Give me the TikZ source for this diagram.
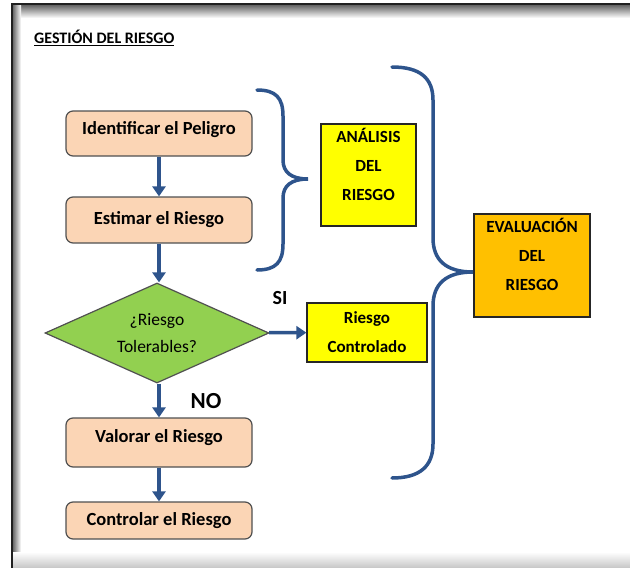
\documentclass[tikz,border=0pt]{standalone}
\usepackage{fontspec}
\setmainfont{Carlito}
\usetikzlibrary{shapes.geometric,arrows.meta}
\definecolor{azulflecha}{RGB}{46,84,140}
\definecolor{durazno}{RGB}{251,213,181}
\definecolor{verdedec}{RGB}{146,208,80}
\definecolor{amarillo}{RGB}{255,255,0}
\definecolor{naranja}{RGB}{255,192,0}
\definecolor{bordegris}{RGB}{80,80,80}
\tikzset{
  paso/.style={draw=bordegris, fill=durazno, rounded corners=7pt, line width=1.2pt,
    minimum width=186pt, font=\bfseries\fontsize{18.5}{21}\selectfont},
  decision/.style={diamond, draw=bordegris, fill=verdedec, line width=1.2pt, aspect=2.24,
    inner sep=0pt, minimum width=224pt, minimum height=100pt, align=center,
    font=\fontsize{17.5}{27}\selectfont},
  nota/.style={draw=black!85, fill=amarillo, line width=1.2pt, align=center,
    font=\bfseries\fontsize{17}{29}\selectfont},
  flecha/.style={azulflecha, line width=3.5pt, -{Triangle[length=10pt,width=13pt]}},
  llave/.style={azulflecha, line width=3.5pt, line cap=round}
}
\begin{document}
\begin{tikzpicture}[x=1pt,y=-1pt]
\useasboundingbox (0,0) rectangle (630,568);
% marco con sombra interior
\shade[top color=gray!70!black, bottom color=white] (12,4) rectangle (630,18);
\shade[left color=gray!70!black, right color=white] (12,4) rectangle (21,568);
\shade[top color=white, bottom color=gray!45] (12,552) rectangle (630,568);
\draw[line width=2pt, gray!25!black] (12,568) -- (12,4) -- (630,4);

% titulo
\node[font=\bfseries\fontsize{16}{18}\selectfont, anchor=west, inner sep=0pt] (titulo) at (34,38)
  {\underline{GESTIÓN DEL RIESGO}};

% pasos del proceso
\node[paso, minimum height=45pt, text depth=12pt] (ident) at (159,133.5) {Identificar el Peligro};
\node[paso, minimum height=46pt] (estimar) at (159,220) {Estimar el Riesgo};
\node[decision] (tolerable) at (157,333) {¿Riesgo\\Tolerables?};
\node[paso, minimum height=49pt, text depth=12pt] (valorar) at (159,442.5) {Valorar el Riesgo};
\node[paso, minimum height=37pt] (controlar) at (159,520.5) {Controlar el Riesgo};

% cuadros de la derecha
\node[nota, minimum width=120pt, minimum height=59pt] (controlado) at (367,332.5)
  {Riesgo\\Controlado};
\node[nota, minimum width=95pt, minimum height=102pt, text depth=22pt] (analisis) at (368.5,175)
  {ANÁLISIS\\DEL\\RIESGO};
\node[nota, fill=naranja, minimum width=116pt, minimum height=103pt, text depth=22pt] (evaluacion)
  at (532,265.5) {EVALUACIÓN\\DEL\\RIESGO};

% flechas
\draw[flecha] (ident) -- (estimar);
\draw[flecha] (estimar) -- (estimar |- tolerable.north);
\draw[flecha] (tolerable) -- (controlado);
\draw[flecha] (valorar |- tolerable.south) -- (valorar);
\draw[flecha] (valorar) -- (controlar);

\node[font=\bfseries\fontsize{20}{22}\selectfont] (si) at (280,298) {SI};
\node[font=\bfseries\fontsize{23}{25}\selectfont] (no) at (206,401) {NO};

% llaves
\draw[llave] (257,90) .. controls (276,90) and (283,98) .. (283,116) -- (283,160)
  .. controls (283,172) and (291,179) .. (308,179)
  .. controls (291,179) and (283,186) .. (283,198) -- (283,244)
  .. controls (283,262) and (276,270) .. (257,270);
\draw[llave] (392,67) .. controls (420,67) and (433,78) .. (433,100) -- (433,238)
  .. controls (433,260) and (446,272) .. (473,272)
  .. controls (446,272) and (433,284) .. (433,306) -- (433,444)
  .. controls (433,466) and (420,478) .. (392,478);
\end{tikzpicture}
\end{document}
